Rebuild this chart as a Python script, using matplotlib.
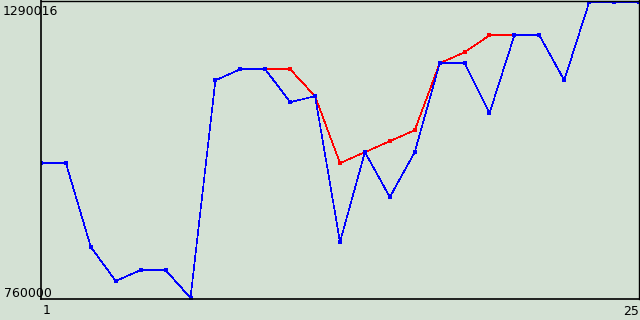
import numpy as np
import matplotlib.pyplot as plt

x = np.arange(1, 26)
blue = [1001700, 1001700, 851300, 790400, 810100, 810100, 760000, 1150300,
        1170000, 1170000, 1111000, 1121700, 860300, 1021400, 940900, 1021400,
        1180800, 1180800, 1091300, 1230900, 1230900, 1150300, 1290016, 1290016,
        1290016]
red = [1001700, 1001700, 851300, 790400, 810100, 810100, 760000, 1150300,
       1170000, 1170000, 1170000, 1121700, 1001700, 1021400, 1041100, 1060800,
       1180800, 1200500, 1230900, 1230900, 1230900, 1150300, 1290016, 1290016,
       1290016]
ymin, ymax = 760000, 1290016
bg = '#d4e1d4'

W, H = 640, 320
fig = plt.figure(figsize=(W / 100, H / 100), dpi=100, facecolor=bg)
ax = fig.add_axes([41 / W, 21 / H, 598 / W, 298.5 / H], facecolor=bg)

ax.plot(x, red, color='#ff0000', lw=0.45, marker='s', ms=2.6, mew=0,
        antialiased=False)
ax.plot(x, blue, color='#0000ff', lw=0.45, marker='s', ms=2.6, mew=0,
        antialiased=False)

step = (ymax - ymin) / 295.7
ax.set_xlim(1, 25)
ax.set_ylim(ymin - 1.0 * step, ymax + 1.8 * step)
ax.set_xticks([])
ax.set_yticks([])
for s in ax.spines.values():
    s.set_color('black')
    s.set_linewidth(1.2)
for s in ('top', 'right'):
    ax.spines[s].set_linewidth(1.0)


def px(xp, yp):
    return xp / W, 1 - yp / H


fig.text(*px(3, 15), str(ymax), fontsize=9, ha='left', va='baseline', zorder=0)
fig.text(*px(4, 297), str(ymin), fontsize=9, ha='left', va='baseline')
fig.text(*px(47, 314), '1', fontsize=9, ha='center', va='baseline')
fig.text(*px(639, 315), '25', fontsize=9, ha='right', va='baseline')

fig.savefig('out.png', dpi=100, facecolor=bg)
